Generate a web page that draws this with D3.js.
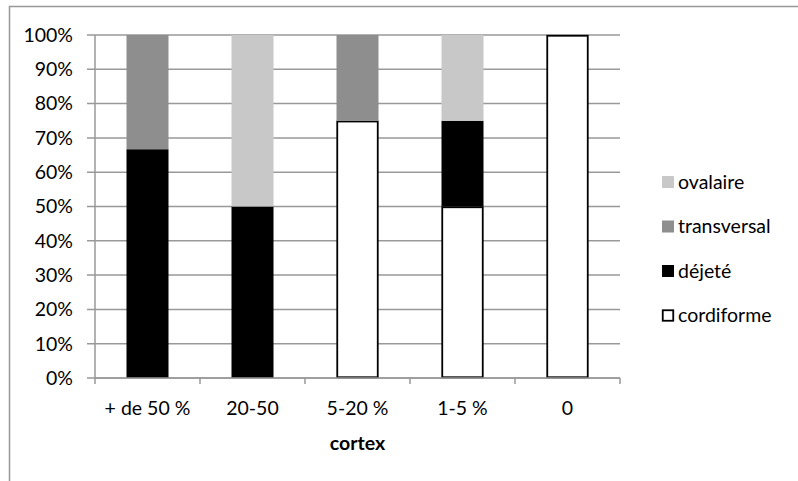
<!DOCTYPE html>
<html><head><meta charset="utf-8">
<script src="https://cdn.jsdelivr.net/npm/d3@7"></script>
<style>body{margin:0;background:#fff}svg{display:block}text{font-family:Lato,"Open Sans",sans-serif;fill:#000}</style>
</head><body>
<script>
const categories = ["+ de 50 %", "20-50", "5-20 %", "1-5 %", "0"];
const seriesNames = ["cordiforme", "déjeté", "transversal", "ovalaire"];
const cordiforme = [0, 0, 75, 50, 100];
const dejete = [66.7, 50, 0, 25, 0];
const transversal = [33.3, 0, 25, 0, 0];
const ovalaire = [0, 50, 0, 25, 0];
const yTicks = [0, 10, 20, 30, 40, 50, 60, 70, 80, 90, 100];
const colors = {cordiforme: "#ffffff", "déjeté": "#000000", transversal: "#8e8e8e", ovalaire: "#c8c8c8"};

(function(){
const W = 798, H = 481, FS = 19.5;
const svg = d3.select("body").append("svg").attr("width", W).attr("height", H);
svg.append("rect").attr("x", 9.5).attr("y", 6.5).attr("width", 900).attr("height", 600)
  .attr("fill", "none").attr("stroke", "#999").attr("stroke-width", 1.5);

const pl = 95, pr = 620, pt = 35, pb = 378;
const x = d3.scaleBand().domain(categories).range([pl, pr]).paddingInner(0.6).paddingOuter(0.3);
const y = d3.scaleLinear().domain([0, 100]).range([pb, pt]);

const rows = categories.map((c, i) => ({cat: c, cordiforme: cordiforme[i], "déjeté": dejete[i], transversal: transversal[i], ovalaire: ovalaire[i]}));
const stack = d3.stack().keys(seriesNames)(rows);

svg.append("g").selectAll("line").data(yTicks).join("line")
  .attr("x1", pl - 8).attr("x2", pr).attr("y1", d => y(d)).attr("y2", d => y(d))
  .attr("stroke", "#999").attr("stroke-width", 1.5);

svg.append("g").selectAll("text").data(yTicks).join("text")
  .attr("x", 73).attr("y", d => y(d)).attr("dy", "0.35em").attr("text-anchor", "end")
  .attr("font-size", FS).text(d => d + "%");

svg.append("line").attr("x1", pl).attr("x2", pl).attr("y1", pt).attr("y2", pb)
  .attr("stroke", "#999").attr("stroke-width", 1.5);

const step = x.step();
const bounds = d3.range(categories.length + 1).map(i => pl + i * step);
svg.append("g").selectAll("line").data(bounds).join("line")
  .attr("x1", d => d).attr("x2", d => d).attr("y1", pb).attr("y2", pb + 6)
  .attr("stroke", "#999").attr("stroke-width", 1.5);

stack.forEach(s => {
  const c = s.key === "cordiforme";
  svg.append("g").selectAll("rect").data(s.filter(d => d[1] - d[0] > 0)).join("rect")
    .attr("x", d => x(d.data.cat) + (c ? 0.75 : 0))
    .attr("width", x.bandwidth() - (c ? 1.5 : 0))
    .attr("y", d => y(d[1]) + (c ? 0.75 : 0))
    .attr("height", d => y(d[0]) - y(d[1]) - (c ? 1.5 : 0))
    .attr("fill", colors[s.key])
    .attr("stroke", c ? "#000" : "none")
    .attr("stroke-width", 1.8);
});

svg.append("line").attr("x1", pl).attr("x2", pr).attr("y1", pb).attr("y2", pb)
  .attr("stroke", "#999").attr("stroke-width", 1.5);

svg.append("g").selectAll("text").data(categories).join("text")
  .attr("x", d => x(d) + x.bandwidth() / 2).attr("y", 408).attr("dy", "0.35em")
  .attr("text-anchor", "middle").attr("font-size", FS).text(d => d);

svg.append("text").attr("x", x(categories[2]) + x.bandwidth() / 2).attr("y", 443).attr("dy", "0.35em")
  .attr("text-anchor", "middle").attr("font-size", FS).attr("font-weight", "bold").text("cortex");

const legendOrder = ["ovalaire", "transversal", "déjeté", "cordiforme"];
const lg = svg.append("g").selectAll("g").data(legendOrder).join("g")
  .attr("transform", (d, i) => `translate(662, ${182 + i * 44.5})`);
lg.append("rect").attr("x", d => d === "cordiforme" ? 0.75 : 0).attr("y", d => d === "cordiforme" ? -5.25 : -6)
  .attr("width", d => d === "cordiforme" ? 10.5 : 12).attr("height", d => d === "cordiforme" ? 10.5 : 12)
  .attr("fill", d => colors[d]).attr("stroke", d => d === "cordiforme" ? "#000" : "none").attr("stroke-width", 1.8);
lg.append("text").attr("x", 16).attr("y", 0).attr("dy", "0.35em").attr("font-size", FS).text(d => d);
})();
</script>
</body></html>
